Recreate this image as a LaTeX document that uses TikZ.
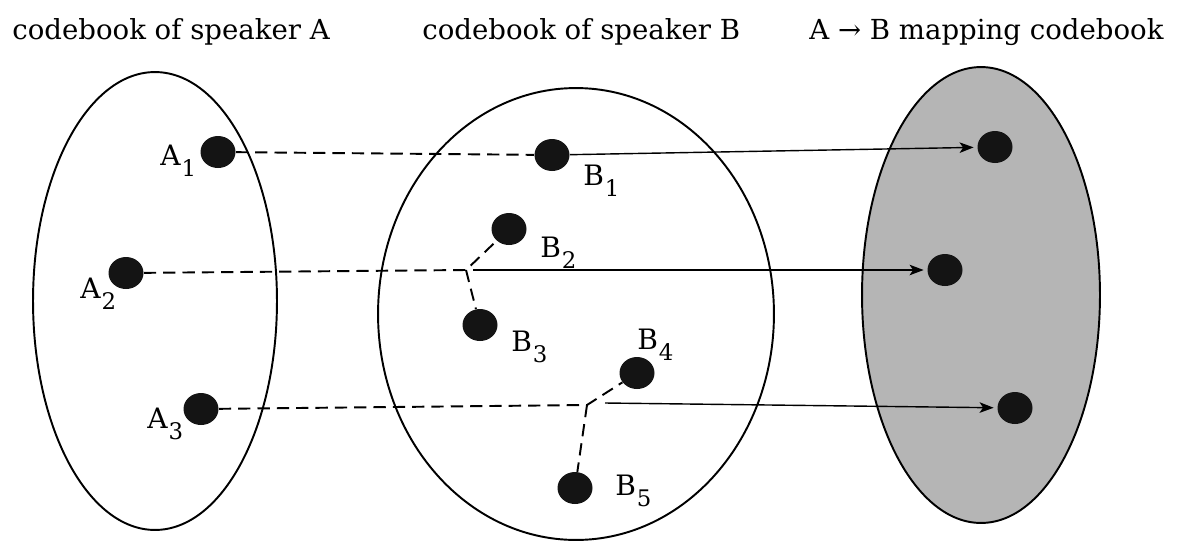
\documentclass[tikz,border=0pt]{standalone}
\usepackage{fontspec}
\setmainfont{DejaVu Serif}
\usetikzlibrary{arrows.meta,shapes.geometric}
\newcommand{\sublab}[2]{#1\kern0.5pt\raisebox{-0.40em}{\fontsize{13}{13}\selectfont #2}}
\begin{document}
\begin{tikzpicture}[x=0.02cm,y=-0.02cm,
  title/.style={font=\fontsize{15.7}{19}\selectfont, inner sep=0, anchor=base west},
  lab/.style={font=\fontsize{16}{19}\selectfont, inner sep=0, anchor=base west},
  setbox/.style={ellipse, draw=black, line width=1.1pt, inner sep=0},
  dot/.style={ellipse, fill=black!92, draw=none, minimum width=0.7cm, minimum height=0.64cm, inner sep=0},
  dashline/.style={line width=1.1pt, dash pattern=on 7pt off 4pt},
  arr/.style={line width=0.8pt, -{Stealth[length=8pt,width=6pt,inset=2pt]}, shorten >=2pt}]
\useasboundingbox (0,0) rectangle (1187,542);

% codebook regions
\node[setbox, minimum width=4.88cm, minimum height=9.16cm] (SA) at (155,301) {};
\node[setbox, minimum width=7.92cm, minimum height=9.04cm] (SB) at (576,314) {};
\node[setbox, fill=black!29, minimum width=4.76cm, minimum height=9.12cm] (SM) at (981,295) {};

% titles
\node[title] (TA) at (12,39) {codebook of speaker A};
\node[title] (TB) at (422,39) {codebook of speaker B};
\node[title] (TM) at (809,39) {A → B mapping codebook};

% junction points
\coordinate (J2) at (466,270);
\coordinate (S2) at (473,270);
\coordinate (J3) at (587,405);
\coordinate (S3) at (605,403);

% code vectors
\node[dot] (A1) at (218,152) {};
\node[dot] (A2) at (126,273) {};
\node[dot] (A3) at (201,409) {};
\node[dot] (B1) at (552,155) {};
\node[dot] (B2) at (509,229) {};
\node[dot] (B3) at (480,325) {};
\node[dot] (B4) at (637,373) {};
\node[dot] (B5) at (575,488) {};
\node[dot] (R1) at (995,147) {};
\node[dot] (R2) at (945,270) {};
\node[dot] (R3) at (1015,408) {};

% labels
\node[lab] (LA1) at (160,165) {\sublab{A}{1}};
\node[lab] (LA2) at (80,298) {\sublab{A}{2}};
\node[lab] (LA3) at (147,428) {\sublab{A}{3}};
\node[lab] (LB1) at (583,185) {\sublab{B}{1}};
\node[lab] (LB2) at (540,257) {\sublab{B}{2}};
\node[lab] (LB3) at (511,351) {\sublab{B}{3}};
\node[lab] (LB4) at (637,349) {\sublab{B}{4}};
\node[lab] (LB5) at (615,495) {\sublab{B}{5}};

% connectors
\draw[dashline] (A1) -- (B1);
\draw[arr] (B1) -- (R1);
\draw[dashline] (A2) -- (J2) -- (B2);
\draw[dashline] (J2) -- (B3);
\draw[arr] (S2) -- (R2);
\draw[dashline] (A3) -- (J3) -- (B4);
\draw[dashline] (J3) -- (B5);
\draw[arr] (S3) -- (R3);
\end{tikzpicture}
\end{document}
